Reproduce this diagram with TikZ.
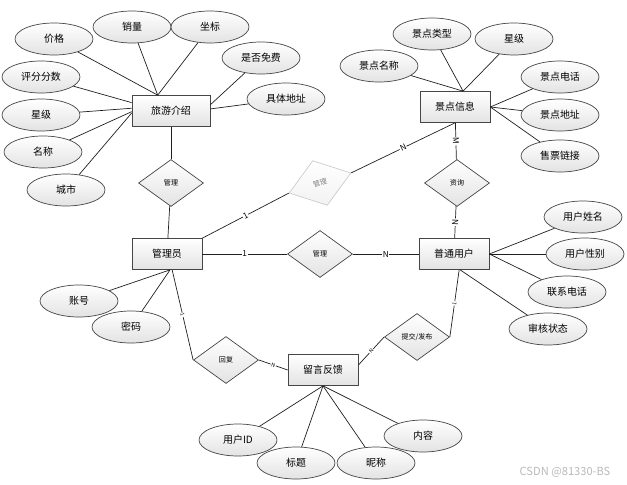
\documentclass[tikz,border=0pt]{standalone}
\usepackage{fontspec}
\setmainfont{Noto Sans CJK SC}
\usetikzlibrary{shapes.geometric}
\begin{document}
\begin{tikzpicture}[x=0.03cm,y=-0.03cm,
    caja/.style={top color=white,bottom color=gray!22,draw=gray!55!black,line width=0.6pt},
    entidad/.style={caja,rectangle,minimum width=2.1cm,minimum height=0.93cm,font=\fontsize{8.5}{10}\selectfont},
    atributo/.style={caja,ellipse,minimum width=2.34cm,minimum height=0.96cm,inner sep=0pt,font=\fontsize{8.5}{10}\selectfont},
    relacion/.style={caja,diamond,minimum width=1.95cm,minimum height=1.41cm,inner sep=0pt,font=\fontsize{6}{7}\selectfont},
    enlace/.style={draw=gray!25!black,line width=0.6pt},
    card/.style={sloped,fill=white,inner sep=0.6pt,font=\fontsize{7}{8}\selectfont},
    cardmini/.style={card,font=\fontsize{4.5}{5}\selectfont}]
    \useasboundingbox (0,0) rectangle (627,485);

    % Entidades
    \node[entidad,minimum width=2.34cm] (lyjs) at (171,111) {旅游介绍};
    \node[entidad] (jdxx) at (455,107) {景点信息};
    \node[entidad] (gly)  at (167,254) {管理员};
    \node[entidad] (ptyh) at (454,254) {普通用户};
    \node[entidad] (lyfk) at (323,370) {留言反馈};

    % Relaciones
    \node[relacion] (gl1) at (171,183) {管理};
    \node[relacion] (zx)  at (457,183) {资询};
    \node[relacion] (gl3) at (320,254) {管理};
    \node[relacion] (hf)  at (226,360) {回复};
    \node[relacion] (tj)  at (417,337) {提交/发布};
    \node[relacion,rotate=18,draw=gray!40,bottom color=gray!10,text=gray] (gl2) at (320,183) {管理};

    % Atributos de 旅游介绍
    \node[atributo] (jg)   at (54,39)   {价格};
    \node[atributo] (xl)   at (132,27)  {销量};
    \node[atributo] (zb)   at (210,27)  {坐标};
    \node[atributo] (sfmf) at (261,58)  {是否免费};
    \node[atributo] (jtdz) at (286,99)  {具体地址};
    \node[atributo] (pffs) at (41,77)   {评分分数};
    \node[atributo] (xj1)  at (41,115)  {星级};
    \node[atributo] (mc)   at (43,152)  {名称};
    \node[atributo] (cs)   at (66,190)  {城市};
    \draw[enlace] (jg) -- (lyjs.130);
    \draw[enlace] (xl) -- (lyjs.130);
    \draw[enlace] (zb) -- (lyjs.130);
    \draw[enlace] (sfmf) -- (lyjs.9);
    \draw[enlace] (jtdz) -- (lyjs.3);
    \draw[enlace] (pffs) -- (lyjs.168);
    \draw[enlace] (xj1) -- (lyjs.176);
    \draw[enlace] (mc) -- (lyjs.181);
    \draw[enlace] (cs) -- (lyjs.183);

    % Atributos de 景点信息
    \node[atributo] (jdlx) at (432,34)  {景点类型};
    \node[atributo] (xj2)  at (514,39)  {星级};
    \node[atributo] (jdmc) at (379,66)  {景点名称};
    \node[atributo] (jddh) at (560,77)  {景点电话};
    \node[atributo] (jddz) at (560,115) {景点地址};
    \node[atributo] (splj) at (560,156) {售票链接};
    \draw[enlace] (jdlx) -- (jdxx.63);
    \draw[enlace] (xj2) -- (jdxx.63);
    \draw[enlace] (jdmc) -- (jdxx.63);
    \draw[enlace] (jddh) -- (jdxx.east);
    \draw[enlace] (jddz) -- (jdxx.east);
    \draw[enlace] (splj) -- (jdxx.east);

    % Atributos de 管理员
    \node[atributo] (zh) at (79,301)  {账号};
    \node[atributo] (mm) at (131,327) {密码};
    \draw[enlace] (zh) -- (gly.-79);
    \draw[enlace] (mm) -- (gly.-79);

    % Atributos de 普通用户
    \node[atributo] (yhxm) at (583,217) {用户姓名};
    \node[atributo] (yhxb) at (585,254) {用户性别};
    \node[atributo] (lxdh) at (567,292) {联系电话};
    \node[atributo] (shzt) at (548,329) {审核状态};
    \draw[enlace] (yhxm) -- (ptyh.east);
    \draw[enlace] (yhxb) -- (ptyh.east);
    \draw[enlace] (lxdh) -- (ptyh.east);
    \draw[enlace] (shzt) -- (ptyh.-69);

    % Atributos de 留言反馈
    \node[atributo] (yhid) at (238,440) {用户ID};
    \node[atributo] (bt)   at (296,463) {标题};
    \node[atributo] (nc)   at (376,463) {昵称};
    \node[atributo] (nr)   at (423,436) {内容};
    \draw[enlace] (yhid) -- (lyfk.south);
    \draw[enlace] (bt) -- (lyfk.south);
    \draw[enlace] (nc) -- (lyfk.south);
    \draw[enlace] (nr) -- (lyfk.south);

    % Conexiones entre entidades y relaciones
    \draw[enlace] (lyjs) -- (gl1);
    \draw[enlace] (gl1) -- (gly);
    \draw[enlace] (gly.north east) -- node[card] {1} (gl2.west);
    \draw[enlace] (gl2.east) -- node[card] {N} (jdxx.south);
    \draw[enlace] (jdxx) -- node[card] {M} (zx);
    \draw[enlace] (zx) -- node[card] {N} (ptyh);
    \draw[enlace] (gly) -- node[card] {1} (gl3);
    \draw[enlace] (gl3) -- node[card] {N} (ptyh);
    \draw[enlace] (gly.-72) -- node[cardmini] {1} (hf.west);
    \draw[enlace] (hf.east) -- node[cardmini] {N} (lyfk.west);
    \draw[enlace] (lyfk.8) -- node[cardmini] {N} (tj.west);
    \draw[enlace] (tj.east) -- node[cardmini] {1} (ptyh.-72);

    % Marca de agua
    \node[text=gray!55,font=\fontsize{9.5}{11}\selectfont] (marca) at (565,472) {CSDN @81330-BS};
\end{tikzpicture}
\end{document}
